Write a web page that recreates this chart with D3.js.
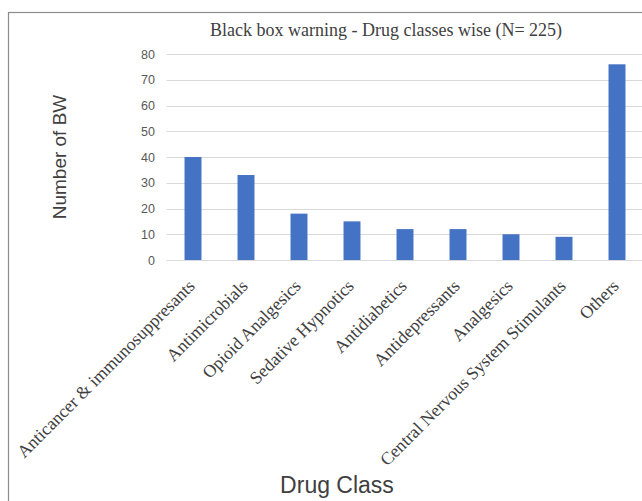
<!DOCTYPE html>
<html><head><meta charset="utf-8">
<script src="https://cdn.jsdelivr.net/npm/d3@7"></script>
<style>html,body{margin:0;padding:0;background:#fff;overflow:hidden}</style>
</head><body>
<svg id="c" width="642" height="501"></svg>
<script>
const categories = ["Anticancer & immunosuppresants","Antimicrobials","Opioid Analgesics","Sedative Hypnotics","Antidiabetics","Antidepressants","Analgesics","Central Nervous System Stimulants","Others"];
const values = [40,33,18,15,12,12,10,9,76];
const yTicks = [0,10,20,30,40,50,60,70,80];
const titleText = "Black box warning - Drug classes wise (N= 225)";
const xTitle = "Drug Class";
const yTitle = "Number of BW";

const svg = d3.select("#c");
svg.append("rect").attr("x",8.5).attr("y",12.5).attr("width",700).attr("height",600)
  .attr("fill","#fff").attr("stroke","#8c8c8c").attr("stroke-width",1.2);

const x = d3.scaleBand().domain(categories).range([166.5,643.5]).paddingInner(0.68).paddingOuter(0.34);
const y = d3.scaleLinear().domain([0,80]).range([260,54]);

// gridlines
svg.append("g").selectAll("line").data(yTicks).join("line")
  .attr("x1",166.5).attr("x2",642).attr("y1",d=>Math.round(y(d))+0.5).attr("y2",d=>Math.round(y(d))+0.5)
  .attr("stroke","#d9d9d9").attr("stroke-width",1);

// y axis labels
const yAxis = d3.axisLeft(y).tickValues(yTicks).tickSize(0).tickPadding(0);
const gy = svg.append("g").attr("transform","translate(155,0)").call(yAxis);
gy.select(".domain").remove();
gy.selectAll("text").attr("font-family","'Liberation Sans', Arial, sans-serif").attr("font-size",12.5).attr("fill","#595959");

// bars
svg.append("g").selectAll("rect").data(values).join("rect")
  .attr("x",(d,i)=>x(categories[i])).attr("width",x.bandwidth())
  .attr("y",d=>y(d)).attr("height",d=>y(0)-y(d))
  .attr("fill","#4472C4");

// x labels
const xAxis = d3.axisBottom(x).tickSize(0).tickPadding(0);
const gx = svg.append("g").attr("transform","translate(0,260)").call(xAxis);
gx.select(".domain").remove();
gx.selectAll("text")
  .attr("font-family","'Liberation Serif','Times New Roman',serif").attr("font-size",17.8).attr("fill","#404040")
  .attr("text-anchor","end").attr("dy",null).attr("y",0).attr("x",0)
  .attr("transform","translate(3,27) rotate(-45)");

// title
svg.append("text").attr("x",386).attr("y",36).attr("text-anchor","middle")
  .attr("font-family","'Liberation Serif','Times New Roman',serif").attr("font-size",18).attr("fill","#404040")
  .text(titleText);

// axis titles
svg.append("text").attr("x",337).attr("y",493).attr("text-anchor","middle")
  .attr("font-family","'Liberation Sans', Arial, sans-serif").attr("font-size",23).attr("fill","#404040")
  .text(xTitle);
svg.append("text").attr("transform","translate(66,157) rotate(-90)").attr("text-anchor","middle")
  .attr("font-family","'Liberation Sans', Arial, sans-serif").attr("font-size",19).attr("fill","#404040")
  .text(yTitle);
</script>
</body></html>
